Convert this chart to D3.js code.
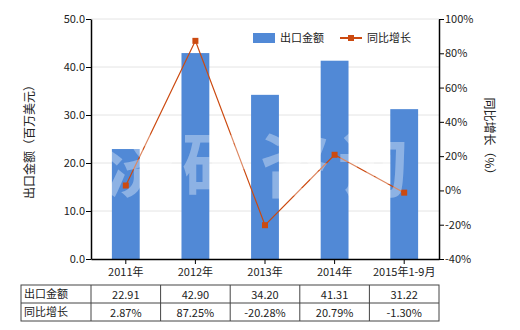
<!DOCTYPE html>
<html>
<head>
<meta charset="utf-8">
<script src="https://cdn.jsdelivr.net/npm/d3@7"></script>
<style>
  body { margin: 0; background: #fff; }
  text { font-family: "Noto Sans CJK SC", "DejaVu Sans", sans-serif; font-size: 11px; fill: #222; }
</style>
</head>
<body>
<svg id="chart" width="520" height="330"></svg>
<script>
let categories = ["2011年", "2012年", "2013年", "2014年", "2015年1-9月"];
let exportValues = [22.91, 42.90, 34.20, 41.31, 31.22];
let growthValues = [2.87, 87.25, -20.28, 20.79, -1.30];
let exportLabels = ["22.91", "42.90", "34.20", "41.31", "31.22"];
let growthLabels = ["2.87%", "87.25%", "-20.28%", "20.79%", "-1.30%"];
let leftTicks = [0, 10, 20, 30, 40, 50];
let rightTicks = [-40, -20, 0, 20, 40, 60, 80, 100];

let svg = d3.select("#chart");
let plotLeft = 91, plotRight = 439, plotTop = 19, plotBottom = 259;
let barColor = "#5189d6";
let lineColor = "#cc4a10";

let x = d3.scaleBand().domain(categories).range([plotLeft, plotRight]).paddingInner(0.6).paddingOuter(0.3);
let xBand = d3.scaleBand().domain(categories).range([plotLeft, plotRight]);
let y = d3.scaleLinear().domain([0, 50]).range([plotBottom, plotTop]);
let y2 = d3.scaleLinear().domain([-40, 100]).range([plotBottom, plotTop]);

// gridlines
svg.append("g").selectAll("line").data(leftTicks.slice(1)).enter().append("line")
    .attr("x1", plotLeft).attr("x2", plotRight)
    .attr("y1", d => y(d)).attr("y2", d => y(d))
    .attr("stroke", "#e4e4e4").attr("stroke-width", 1);

// bars
svg.append("g").selectAll("rect").data(exportValues).enter().append("rect")
    .attr("x", (d, i) => x(categories[i]))
    .attr("width", x.bandwidth())
    .attr("y", d => y(d))
    .attr("height", d => plotBottom - y(d))
    .attr("fill", barColor);

// line
let valueline = d3.line()
    .x((d, i) => xBand(categories[i]) + xBand.bandwidth() / 2)
    .y(d => y2(d));
svg.append("path").datum(growthValues)
    .attr("d", valueline)
    .attr("fill", "none")
    .attr("stroke", lineColor)
    .attr("stroke-width", 1.2);
svg.append("g").selectAll("rect").data(growthValues).enter().append("rect")
    .attr("x", (d, i) => xBand(categories[i]) + xBand.bandwidth() / 2 - 3)
    .attr("y", d => y2(d) - 3)
    .attr("width", 6).attr("height", 6)
    .attr("fill", lineColor);

// watermark
svg.append("text")
    .attr("x", 260).attr("y", 192)
    .attr("text-anchor", "middle")
    .style("font-size", "70px")
    .style("font-weight", "bold")
    .style("letter-spacing", "8px")
    .style("fill", "#fff")
    .style("fill-opacity", 0.35)
    .text("济研咨询");

// axes
let leftAxis = svg.append("g").attr("transform", "translate(" + plotLeft + ",0)")
    .call(d3.axisLeft(y).tickValues(leftTicks).tickFormat(d3.format(".1f")).tickSize(5).tickSizeOuter(0));
let rightAxis = svg.append("g").attr("transform", "translate(" + plotRight + ",0)")
    .call(d3.axisRight(y2).tickValues(rightTicks).tickFormat(d => d + "%").tickSize(5).tickSizeOuter(0));
let bottomAxis = svg.append("g").attr("transform", "translate(0," + plotBottom + ")")
    .call(d3.axisBottom(xBand).tickSize(5).tickSizeOuter(0));
[leftAxis, rightAxis, bottomAxis].forEach(a => {
    a.select(".domain").attr("stroke", "#000").attr("stroke-width", 1.5);
    a.selectAll(".tick line").attr("stroke", "#000");
    a.selectAll("text").style("font-size", "11px").attr("fill", "#222");
});
leftAxis.selectAll("text").attr("x", -6);
rightAxis.selectAll("text").attr("x", 6);
bottomAxis.selectAll("text").attr("y", 9);

// axis titles
svg.append("text")
    .attr("transform", "translate(34,139) rotate(-90)")
    .attr("text-anchor", "middle")
    .style("font-size", "12px")
    .text("出口金额（百万美元）");
svg.append("text")
    .attr("transform", "translate(485,139) rotate(90)")
    .attr("text-anchor", "middle")
    .style("font-size", "12px")
    .text("同比增长（%）");

// legend
svg.append("rect").attr("x", 253).attr("y", 33).attr("width", 22).attr("height", 10).attr("fill", barColor);
svg.append("text").attr("x", 280).attr("y", 42).style("font-size", "11px").text("出口金额");
svg.append("line").attr("x1", 340).attr("x2", 362).attr("y1", 38).attr("y2", 38)
    .attr("stroke", lineColor).attr("stroke-width", 2);
svg.append("rect").attr("x", 348).attr("y", 35).attr("width", 6).attr("height", 6).attr("fill", lineColor);
svg.append("text").attr("x", 367).attr("y", 42).style("font-size", "11px").text("同比增长");

// data table
let tableLeft = 21, rowTop = [285, 303], rowH = 18;
let table = svg.append("g");
let rows = [["出口金额", exportLabels], ["同比增长", growthLabels]];
table.append("rect").attr("x", tableLeft).attr("y", rowTop[0])
    .attr("width", plotRight - tableLeft).attr("height", rowH * 2)
    .attr("fill", "none").attr("stroke", "#444");
table.append("line").attr("x1", tableLeft).attr("x2", plotRight)
    .attr("y1", rowTop[1]).attr("y2", rowTop[1]).attr("stroke", "#444");
table.selectAll("line.col").data(categories).enter().append("line")
    .attr("class", "col")
    .attr("x1", d => xBand(d)).attr("x2", d => xBand(d))
    .attr("y1", rowTop[0]).attr("y2", rowTop[0] + rowH * 2)
    .attr("stroke", "#444");
rows.forEach((r, ri) => {
    table.append("text").attr("x", tableLeft + 3).attr("y", rowTop[ri] + 13)
        .style("font-size", "11px").text(r[0]);
    table.selectAll("text.v" + ri).data(r[1]).enter().append("text")
        .attr("class", "v" + ri)
        .attr("x", (d, i) => xBand(categories[i]) + xBand.bandwidth() / 2)
        .attr("y", rowTop[ri] + 14)
        .attr("text-anchor", "middle")
        .style("font-size", "11px")
        .text(d => d);
});
</script>
</body>
</html>
